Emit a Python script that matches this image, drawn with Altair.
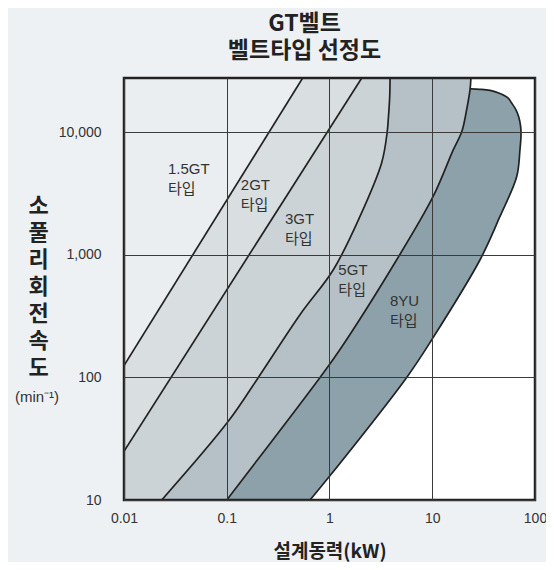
import altair as alt
import pandas as pd

# ---- data (design power kW, small pulley rpm) ----
x_domain = [0.01, 100]
y_domain = [10, 27700]

x_tick_values = [0.01, 0.1, 1, 10, 100]
x_tick_labels = ["0.01", "0.1", "1", "10", "100"]
y_tick_values = [10, 100, 1000, 10000]
y_tick_labels = ["10", "100", "1,000", "10,000"]

# boundary 1.5GT | 2GT
c1_kw = [0.01, 0.548]
c1_rpm = [125, 27700]
# boundary 2GT | 3GT
c2_kw = [0.01, 2.06]
c2_rpm = [25, 27700]
# boundary 3GT | 5GT
c3_kw = [0.0233, 0.103, 0.203, 0.516, 1.09, 1.98, 3.22, 3.64, 3.73, 3.86, 3.88]
c3_rpm = [10, 43.6, 100, 325, 756, 2056, 5640, 10000, 12600, 20180, 27700]
# boundary 5GT | 8YU
c4_kw = [0.1, 0.809, 1.26, 4.51, 10.2, 16.0, 19.4, 21.6, 23.3, 23.8]
c4_rpm = [10, 100, 168, 912, 2993, 7180, 10140, 15240, 22130, 27700]
# outer edge of 8YU
c5_kw = [0.646, 1.0, 5.64, 10, 29.2, 45.6, 66.4, 71.4, 73.1, 72.4, 69.5, 65.3, 59.0,
         54.6, 45.0, 36.5, 29.0, 23.8]
c5_rpm = [10, 15.6, 100, 206, 912, 2056, 4355, 7200, 9530, 11200, 13300, 15240, 17400,
          19050, 20800, 21930, 22400, 22600]

label_kw = [0.0268, 0.137, 0.369, 1.22, 3.88]
label_rpm = [5740, 4200, 2245, 851, 482]
label_text = ["1.5GT\n타입", "2GT\n타입", "3GT\n타입", "5GT\n타입", "8YU\n타입"]

region_colors = ["#d9dee1", "#ccd3d7", "#b6c1c7", "#8da1aa", "#ffffff"]
base_color = "#ebeef0"
bg_color = "#eef1f3"
ink = "#222222"

LATIN = "Liberation Sans, Noto Sans CJK KR, sans-serif"
KR = "Noto Sans CJK KR"

W, H = 411, 422


def df(kw, rpm, extra_front=None, extra_back=None):
    kw = list(kw)
    rpm = list(rpm)
    if extra_front:
        kw = [extra_front[0]] + kw
        rpm = [extra_front[1]] + rpm
    if extra_back:
        kw = kw + [extra_back[0]]
        rpm = rpm + [extra_back[1]]
    return pd.DataFrame({"kw": kw, "rpm": rpm}).sort_values("rpm")


xs = alt.Scale(type="log", domain=x_domain, nice=False)
ys = alt.Scale(type="log", domain=y_domain, nice=False)


def lab_expr(vals, labs):
    return ("[" + ",".join("'%s'" % l for l in labs) + "][indexof(["
            + ",".join(repr(v) for v in vals) + "], datum.value)]")


x_axis = alt.Axis(
    values=x_tick_values, labelExpr=lab_expr(x_tick_values, x_tick_labels),
    grid=True, gridColor="#3a3a3a", gridWidth=1, gridOpacity=1,
    ticks=False, domain=False, labelFont=LATIN, labelFontSize=14,
    labelColor="#333333", labelPadding=11, labelFlush=False,
    title="설계동력(kW)", titleFont=KR, titleFontSize=19, titleFontWeight="bold",
    titleColor=ink, titleY=51, titleBaseline="middle", zindex=1,
)
y_axis = alt.Axis(
    values=y_tick_values, labelExpr=lab_expr(y_tick_values, y_tick_labels),
    grid=True, gridColor="#3a3a3a", gridWidth=1, gridOpacity=1,
    ticks=False, domain=False, labelFont=LATIN, labelFontSize=14,
    labelColor="#333333", labelPadding=23, labelFlush=False,
    title=list("소풀리회전속도"), titleFont=KR, titleFontSize=22,
    titleFontWeight="bold", titleColor=ink, titleAngle=0, titleAlign="center",
    titleBaseline="top", titleLineHeight=27, titleX=-86, titleY=117, zindex=1,
)

X = alt.X("kw:Q", scale=xs, axis=x_axis)
Y = alt.Y("rpm:Q", scale=ys, axis=y_axis)

areas_data = [
    (df(c1_kw, c1_rpm, extra_front=(x_domain[0], y_domain[0])), "linear"),
    (df(c2_kw, c2_rpm, extra_front=(x_domain[0], y_domain[0])), "linear"),
    (df(c3_kw, c3_rpm), "catmull-rom"),
    (df(c4_kw, c4_rpm), "catmull-rom"),
    (df(c5_kw, c5_rpm, extra_back=(c4_kw[-1], c4_rpm[-1])), "catmull-rom"),
]

layers = []
for i, (d, interp) in enumerate(areas_data):
    layers.append(
        alt.Chart(d).mark_area(orient="horizontal", color=region_colors[i],
                               clip=True, opacity=1, interpolate=interp)
        .encode(x=X, x2=alt.datum(x_domain[1]), y=Y)
    )

curves = []
for name, kw, rpm in [("c1", c1_kw, c1_rpm), ("c2", c2_kw, c2_rpm),
                      ("c3", c3_kw, c3_rpm), ("c4", c4_kw, c4_rpm),
                      ("c5", c5_kw, c5_rpm)]:
    curves.append(pd.DataFrame({"curve": name, "kw": kw, "rpm": rpm}))
lines_df = pd.concat(curves, ignore_index=True)

lines = alt.Chart(lines_df).mark_line(color=ink, strokeWidth=1.7, clip=True,
                                      interpolate="catmull-rom").encode(
    x=X, y=Y, detail="curve:N", order="rpm:Q",
)

labels_df = pd.DataFrame({"kw": label_kw, "rpm": label_rpm, "t": label_text})
labels = alt.Chart(labels_df).mark_text(
    align="left", baseline="top", lineBreak="\n", lineHeight=20,
    font=LATIN, fontSize=15, color="#333333",
).encode(x=X, y=Y, text="t:N")

unit = alt.Chart(pd.DataFrame({"t": ["(min⁻¹)"]})).mark_text(
    align="center", baseline="middle", font=LATIN, fontSize=15, color="#333333",
).encode(x=alt.value(-87), y=alt.value(319), text="t:N")

frame = alt.Chart(pd.DataFrame({"t": [0]})).mark_rect(
    fillOpacity=0, stroke=ink, strokeWidth=2.5,
).encode(x=alt.value(0), x2=alt.value(W), y=alt.value(0), y2=alt.value(H))

chart = alt.layer(*layers, lines, labels, unit, frame).properties(
    width=W, height=H,
    title=alt.TitleParams(
        text=["GT벨트", "벨트타입 선정도"], font=KR, fontSize=23,
        fontWeight="bold", lineHeight=27, anchor="middle", dx=-25,
        offset=14, color=ink,
    ),
    autosize=alt.AutoSizeParams(type="none"),
    padding={"left": 116, "top": 70, "right": 11, "bottom": 62},
    background=bg_color,
).configure_view(
    fill=base_color, stroke=None,
)

chart.save("out.html", embed_options={"renderer": "svg", "actions": False})
